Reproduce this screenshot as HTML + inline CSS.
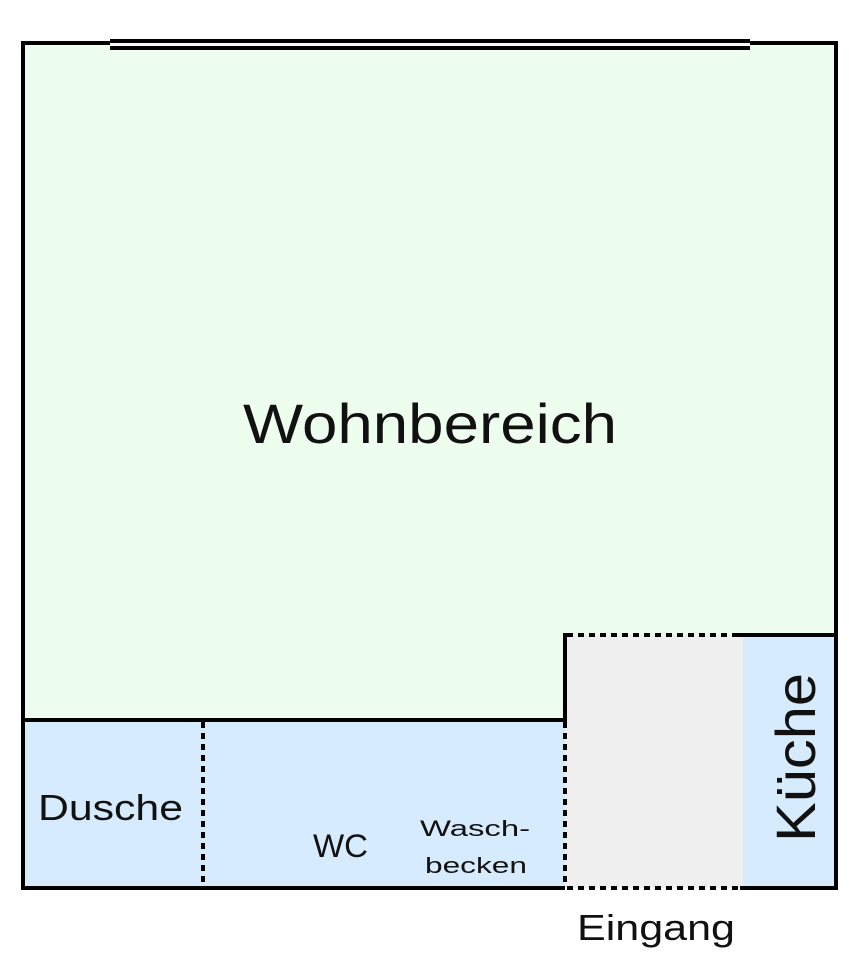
<!DOCTYPE html>
<html><head><meta charset="utf-8"><style>html,body{margin:0;padding:0;background:#fff}svg{display:block}text{font-family:"Liberation Sans",sans-serif;fill:#111}</style></head>
<body>
<svg width="867" height="960" viewBox="0 0 867 960" xmlns="http://www.w3.org/2000/svg">
<rect x="23" y="43" width="813" height="677" fill="#edfdee"/>
<rect x="23" y="720" width="542" height="168" fill="#d6ebfe"/>
<rect x="565" y="635" width="178" height="253" fill="#efefef"/>
<rect x="743" y="635" width="93" height="253" fill="#d6ebfe"/>
<g stroke="#000" stroke-width="4" fill="none">
<polyline points="23,888 23,43 836,43 836,888 740,888"/>
<line x1="21" y1="888" x2="565" y2="888"/>
<line x1="23" y1="720" x2="567" y2="720"/>
<line x1="565" y1="720" x2="565" y2="633"/>
<line x1="737" y1="635" x2="836" y2="635"/>
</g>
<g stroke="#000" stroke-width="4" stroke-dasharray="6 5" fill="none">
<line x1="567" y1="635" x2="737" y2="635"/>
<line x1="567" y1="888" x2="740" y2="888"/>
<line x1="565" y1="722" x2="565" y2="886"/>
<line x1="203" y1="722" x2="203" y2="886"/>
</g>
<rect x="110" y="43" width="640" height="6" fill="#edfdee"/>
<line x1="110" y1="41" x2="750" y2="41" stroke="#000" stroke-width="4"/>
<line x1="110" y1="48" x2="750" y2="48" stroke="#000" stroke-width="4"/>
<text x="243" y="443" font-size="56" textLength="374" lengthAdjust="spacingAndGlyphs">Wohnbereich</text>
<text x="38" y="820" font-size="36" textLength="145" lengthAdjust="spacingAndGlyphs">Dusche</text>
<text x="313" y="857" font-size="32" textLength="55" lengthAdjust="spacingAndGlyphs">WC</text>
<text x="420" y="836" font-size="22" textLength="110" lengthAdjust="spacingAndGlyphs">Wasch-</text>
<text x="425" y="873" font-size="22" textLength="102" lengthAdjust="spacingAndGlyphs">becken</text>
<text x="577" y="940" font-size="36" textLength="158" lengthAdjust="spacingAndGlyphs">Eingang</text>
<text transform="translate(815,842) rotate(-90)" x="0" y="0" font-size="56" textLength="169" lengthAdjust="spacingAndGlyphs">Küche</text>
</svg>
</body></html>
